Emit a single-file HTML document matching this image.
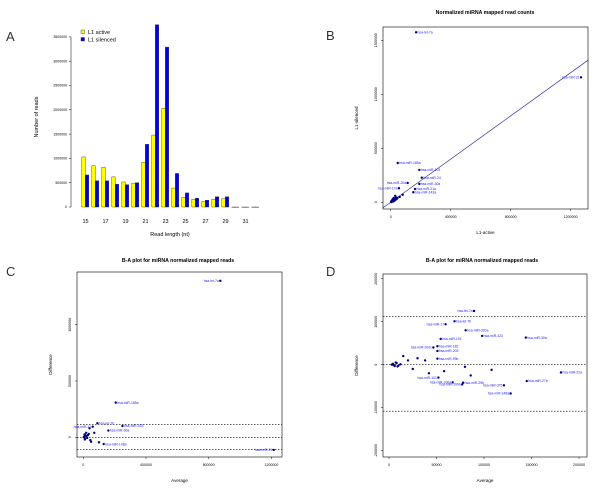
<!DOCTYPE html>
<html><head><meta charset="utf-8"><style>
html,body{margin:0;padding:0;background:#fff;width:600px;height:490px;overflow:hidden}
svg{display:block;font-family:"Liberation Sans",sans-serif}
</style></head><body>
<svg id="fig" width="600" height="490" viewBox="0 0 600 490">
<g id="pA"></g>
<g id="pB"></g>
<g id="pC"></g>
<g id="pD"></g>
</svg>
<script>
// Panel A data
const aLengths = [15,16,17,18,19,20,21,22,23,24,25,26,27,28,29,30,31,32];
const aActive = [1030000,850000,820000,620000,515000,490000,920000,1480000,2030000,390000,200000,160000,120000,160000,170000,0,0,0];
const aSilenced = [660000,540000,540000,470000,460000,500000,1290000,3750000,3290000,690000,290000,180000,140000,210000,210000,0,0,0];
const aYTicks = [0,500000,1000000,1500000,2000000,2500000,3000000,3500000];
const aXLabels = [15,17,19,21,23,25,27,29,31];
// Panel B data
const bNames = ["hsa-let-7a","hsa-miR-21","hsa-miR-185a","hsa-miR-103","hsa-miR-24","hsa-miR-30a","hsa-miR-21a","hsa-miR-143a","hsa-miR-20a","hsa-miR-17a","","","","","","","","","","","","","","","","","","","",""];
const bActive = [169000,1269000,47000,191000,207000,191000,162000,151000,113000,55000,30000,20000,10000,5000,40000,60000,80000,25000,15000,35000,8000,12000,18000,3000,22000,28000,45000,6000,14000,33000];
const bSilenced = [1574000,1157000,364000,300000,228000,170000,123000,93000,179000,130000,60000,40000,20000,10000,30000,50000,70000,15000,25000,45000,5000,18000,8000,2000,35000,20000,40000,12000,30000,25000];
const bXTicks = [0,400000,800000,1200000];
const bYTicks = [0,500000,1000000,1500000];
// Panel C data
const cNames = ["hsa-let-7a","hsa-miR-21","hsa-miR-185a","hsa-let-7b","hsa-miR-30a","hsa-miR-148a","hsa-miR-423","hsa-miR-17","","","","","","","","","","","","","","","",""];
const cAvg = [874000,1215000,207000,90000,160000,130000,250000,60000,30000,20000,10000,50000,100000,70000,40000,5000,15000,25000,8000,12000,35000,3000,18000,45000];
const cDiff = [1390000,-112000,308000,125000,60000,-60000,100000,94000,20000,10000,-20000,-40000,-45000,40000,80000,5000,15000,-5000,25000,-10000,30000,0,40000,-25000];
const cXTicks = [0,400000,800000,1200000];
const cYTicks = [0,500000,1000000];
const cHLines = [115000,0,-107000];
// Panel D data
const dNames = ["hsa-let-7a","hsa-let-7b","hsa-miR-17","hsa-miR-320a","hsa-miR-423","hsa-miR-30a","hsa-miR-191","hsa-miR-182","hsa-miR-200c","hsa-miR-203","hsa-miR-99b","hsa-miR-22a","hsa-miR-27b","hsa-miR-375","hsa-miR-148a","hsa-miR-101","hsa-miR-200a","hsa-miR-29b","hsa-miR-199b","","","","","","","","","","","","","","","","","","",""];
const dAvg = [89500,69000,59600,80700,98000,144000,54400,51000,46700,51000,51000,181000,145000,121000,128000,52000,67000,78000,77000,15000,20000,25000,38000,42000,58000,80000,86000,108000,30000,4000,6000,8000,10000,12000,3000,7000,9000,5000];
const dDiff = [125000,101000,94000,80000,67000,63000,60000,43000,40000,32000,14000,-18000,-38000,-48000,-67000,-30000,-41000,-42000,-46000,20000,10000,-10000,10000,-20000,-15000,-5000,-25000,-12000,15000,2000,-3000,4000,-2000,1000,0,5000,-4000,-1000];
const dXTicks = [0,50000,100000,150000,200000];
const dYTicks = [-200000,-100000,0,100000,200000];
const dHLines = [112000,0,-108000];

const NS="http://www.w3.org/2000/svg";
function mk(parent,tag,attrs,text){const e=document.createElementNS(NS,tag);for(const k in attrs)e.setAttribute(k,attrs[k]);if(text!==undefined)e.textContent=text;parent.appendChild(e);return e;}
function lin(d0,d1,p0,p1){return v=>p0+(v-d0)*(p1-p0)/(d1-d0);}

// ---- Panel A ----
(function(){
const g=document.getElementById('pA');
const y=lin(0,500000,207,182.7);
const x=lin(15,16,85.5,95.5);
let t=mk(g,'text',{x:6,y:41,'font-size':13,fill:'#333'},'A');


mk(g,'line',{x1:71,y1:y(0),x2:71,y2:y(3500000),stroke:'#000','stroke-width':0.5});
aYTicks.forEach(v=>{
 mk(g,'line',{x1:69,y1:y(v),x2:71,y2:y(v),stroke:'#000','stroke-width':0.5});
 const tt=mk(g,'text',{x:67,y:y(v)+1.2,'font-size':3.5,'text-anchor':'end'},String(v));
 
 
});
aLengths.forEach((L,i)=>{
 const cx=x(L);
 const r1=mk(g,'rect',{x:cx-3.7,y:y(aActive[i]),width:3.5,height:Math.max(0.3,y(0)-y(aActive[i])),fill:'#ffff00',stroke:'#333','stroke-width':0.4});
 
 
 const r2=mk(g,'rect',{x:cx-0.2,y:y(aSilenced[i]),width:3.5,height:Math.max(0.3,y(0)-y(aSilenced[i])),fill:'#0000ee',stroke:'#333','stroke-width':0.4});
 
 
});
aXLabels.forEach(L=>{
 const tt=mk(g,'text',{x:x(L),y:223,'font-size':5.5,'text-anchor':'middle'},String(L));
 
 
});
let xt=mk(g,'text',{x:170,y:236,'font-size':5.5,'text-anchor':'middle'},'Read length (nt)');


let yt=mk(g,'text',{x:38,y:117,'font-size':5.5,'text-anchor':'middle',transform:'rotate(-90 38 117)'},'Number of reads');


const lg=mk(g,'g',{});


mk(lg,'rect',{x:81,y:30,width:3.5,height:3.5,fill:'#ffff00',stroke:'#333','stroke-width':0.4});
mk(lg,'rect',{x:81,y:37.5,width:3.5,height:3.5,fill:'#0000ee',stroke:'#333','stroke-width':0.4});
let l1=mk(lg,'text',{x:88,y:34,'font-size':5.5},'L1 active');


let l2=mk(lg,'text',{x:88,y:41.5,'font-size':5.5},'L1 silenced');


})();

function scatter(g,o){
 mk(g,'rect',{x:o.L,y:o.T,width:o.R-o.L,height:o.B-o.T,fill:'none',stroke:'#000','stroke-width':0.6});
 const tt=mk(g,'text',{x:o.tx,y:o.ty,'font-size':5.2,'font-weight':'bold','text-anchor':'middle'},o.title);
 
 
 const pl=mk(g,'text',{x:o.lx,y:o.ly,'font-size':13,fill:'#333'},o.letter);
 
 
 o.xt.forEach(v=>{
  mk(g,'line',{x1:o.x(v),y1:o.B,x2:o.x(v),y2:o.B+2,stroke:'#000','stroke-width':0.5});
  const t=mk(g,'text',{x:o.x(v),y:o.B+9,'font-size':3.6,'text-anchor':'middle'},String(v));
  
  
 });
 o.yt.forEach(v=>{
  mk(g,'line',{x1:o.L-2,y1:o.y(v),x2:o.L,y2:o.y(v),stroke:'#000','stroke-width':0.5});
  const px=o.L-6;
  const t=mk(g,'text',{x:px,y:o.y(v),'font-size':3.6,'text-anchor':'middle',transform:`rotate(-90 ${px} ${o.y(v)})`},String(v));
  
  
 });
 const xl=mk(g,'text',{x:(o.L+o.R)/2,y:o.B+25,'font-size':4.5,'text-anchor':'middle'},o.xlab);
 
 
 const yx=o.L-25,yy=(o.T+o.B)/2;
 const yl=mk(g,'text',{x:yx,y:yy,'font-size':4.5,'text-anchor':'middle',transform:`rotate(-90 ${yx} ${yy})`},o.ylab);
 
 
 (o.h||[]).forEach(v=>{
  const l=mk(g,'line',{x1:o.L,y1:o.y(v),x2:o.R,y2:o.y(v),stroke:'#000','stroke-width':0.6,'stroke-dasharray':'1.5,1.5'});
  
  
 });
 o.xs.forEach((xv,i)=>{
  const px=o.x(xv),py=o.y(o.ys[i]);
  const c=mk(g,'circle',{cx:px,cy:py,r:1.2,fill:'#000080'});
  
  
  if(o.names[i]){
   const left=o.leftSet&&o.leftSet.includes(o.names[i]);
   const lt=mk(g,'text',{x:left?px-1.5:px+1.5,y:py+1.2,'font-size':3.4,fill:'#2222ff','text-anchor':left?'end':'start'},o.names[i]);
   
   
  }
 });
}

// ---- Panel B ----
(function(){
const g=document.getElementById('pB');
const x=lin(0,400000,390.7,450.7), y=lin(0,500000,202.3,148.3);
const ln=mk(g,'line',{x1:x(-53000),y1:y(-53000),x2:x(1318000),y2:y(1318000),stroke:'#3333aa','stroke-width':0.7});


scatter(g,{L:383,R:588,T:27,B:209,x,y,xt:bXTicks,yt:bYTicks,xs:bActive,ys:bSilenced,names:bNames,
 title:'Normalized miRNA mapped read counts',tx:485,ty:14,letter:'B',lx:326,ly:40,xlab:'L1-active',ylab:'L1-silenced',
 leftSet:['hsa-miR-21','hsa-miR-20a','hsa-miR-17a']});
})();

// ---- Panel C ----
(function(){
const g=document.getElementById('pC');
const x=lin(0,400000,83.3,146), y=lin(0,500000,437.3,381);
scatter(g,{L:77,R:282,T:272,B:457,x,y,xt:cXTicks,yt:cYTicks,xs:cAvg,ys:cDiff,names:cNames,h:cHLines,
 title:'B-A plot for miRNA normalized mapped reads',tx:178,ty:262,letter:'C',lx:6,ly:276,xlab:'Average',ylab:'Difference',
 leftSet:['hsa-let-7a','hsa-miR-21','hsa-miR-17']});
})();

// ---- Panel D ----
(function(){
const g=document.getElementById('pD');
const x=lin(0,50000,389,436.5), y=lin(0,100000,364.7,321.7);
scatter(g,{L:383,R:587,T:274,B:457,x,y,xt:dXTicks,yt:dYTicks,xs:dAvg,ys:dDiff,names:dNames,h:dHLines,
 title:'B-A plot for miRNA normalized mapped reads',tx:482,ty:262,letter:'D',lx:326,ly:276,xlab:'Average',ylab:'Difference',
 leftSet:['hsa-let-7a','hsa-miR-17','hsa-miR-200c','hsa-miR-375','hsa-miR-148a','hsa-miR-101','hsa-miR-200a','hsa-miR-199b']});
})();
</script>
</body></html>
